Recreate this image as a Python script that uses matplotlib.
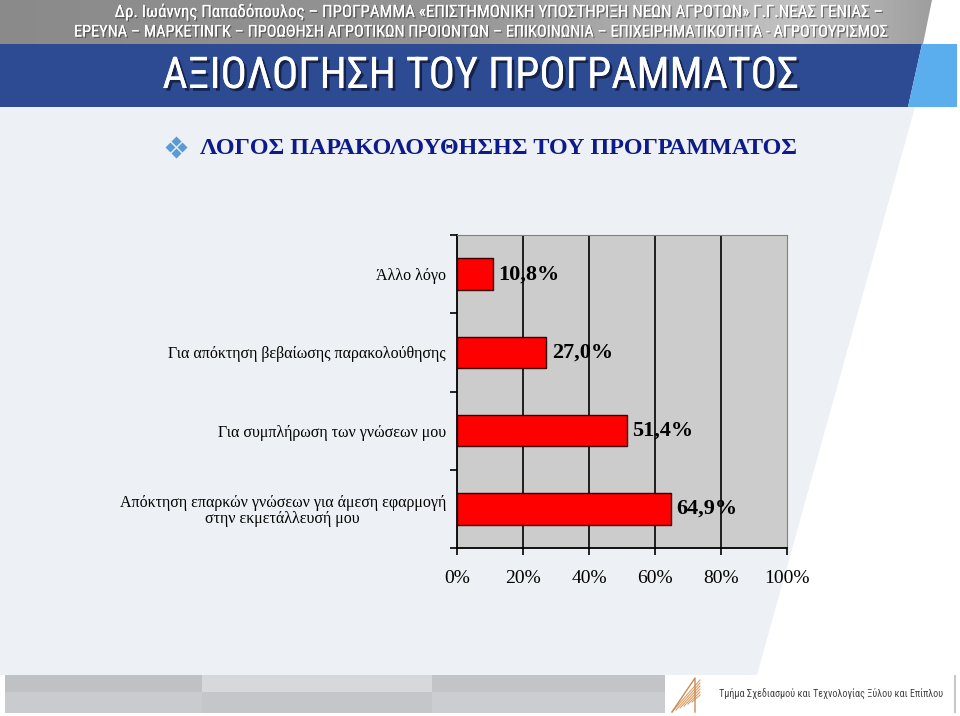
import numpy as np
import matplotlib
matplotlib.use("Agg")
import matplotlib.pyplot as plt
from matplotlib.patches import Rectangle, Polygon
import matplotlib.patheffects as pe

# ---------------- data ----------------
categories = [
    "Άλλο λόγο",
    "Για απόκτηση βεβαίωσης παρακολούθησης",
    "Για συμπλήρωση των γνώσεων μου",
    "Απόκτηση επαρκών γνώσεων για άμεση εφαρμογή\nστην εκμετάλλευσή μου",
]
values = [10.8, 27.0, 51.4, 64.9]
x_ticks = [0, 20, 40, 60, 80, 100]
x_ticklabels = ["0%", "20%", "40%", "60%", "80%", "100%"]

header_1 = "Δρ. Ιωάννης Παπαδόπουλος – ΠΡΟΓΡΑΜΜΑ «ΕΠΙΣΤΗΜΟΝΙΚΗ ΥΠΟΣΤΗΡΙΞΗ ΝΕΩΝ ΑΓΡΟΤΩΝ» Γ.Γ.ΝΕΑΣ ΓΕΝΙΑΣ –"
header_2 = "ΕΡΕΥΝΑ – ΜΑΡΚΕΤΙΝΓΚ – ΠΡΟΩΘΗΣΗ ΑΓΡΟΤΙΚΩΝ ΠΡΟΙΟΝΤΩΝ – ΕΠΙΚΟΙΝΩΝΙΑ – ΕΠΙΧΕΙΡΗΜΑΤΙΚΟΤΗΤΑ - ΑΓΡΟΤΟΥΡΙΣΜΟΣ"
title = "ΑΞΙΟΛΟΓΗΣΗ ΤΟΥ ΠΡΟΓΡΑΜΜΑΤΟΣ"
subtitle = "ΛΟΓΟΣ ΠΑΡΑΚΟΛΟΥΘΗΣΗΣ ΤΟΥ ΠΡΟΓΡΑΜΜΑΤΟΣ"
footer = "Τμήμα Σχεδιασμού και Τεχνολογίας Ξύλου και Επίπλου"

SERIF = ["Liberation Serif", "DejaVu Serif"]
NARROW = ["Liberation Sans Narrow", "Roboto Condensed", "Open Sans", "DejaVu Sans"]

W, H = 960, 716
fig = plt.figure(figsize=(W / 100, H / 100), dpi=100)
fig.patch.set_facecolor("white")

# ---------------- slide background (pixel coords) ----------------
bg = fig.add_axes([0, 0, 1, 1])
bg.set_xlim(0, W); bg.set_ylim(H, 0); bg.axis("off")

# body: light panel with slanted right edge, white beyond
bg.add_patch(Polygon([(0, 107), (915, 107), (757, 675), (0, 675)],
                     closed=True, fc="#edf0f4", ec="none"))

# header band: gray gradient clipped to slanted shape
grad = np.interp(np.linspace(0, 960, 400), [0, 450, 650, 800, 930],
                 [0.54, 0.58, 0.68, 0.76, 0.62])
img = bg.imshow(np.tile(grad, (2, 1)), cmap="gray", vmin=0, vmax=1,
                extent=(0, 960, 44, 0), aspect="auto")
hdr = Polygon([(0, 0), (932, 0), (923, 44), (0, 44)], closed=True,
              fc="none", ec="none", transform=bg.transData)
bg.add_patch(hdr)
img.set_clip_path(hdr)

# title bar: dark blue + light blue tail
bg.add_patch(Polygon([(0, 44), (922, 44), (908, 107), (0, 107)],
                     closed=True, fc="#2c4b93", ec="none"))
bg.add_patch(Polygon([(922, 44), (957, 44), (957, 107), (908, 107)],
                     closed=True, fc="#5aaeee", ec="none"))

shadow = [pe.withSimplePatchShadow(offset=(1, -1), shadow_rgbFace="#333333", alpha=0.6), pe.Normal()]
bg.text(495, 12, header_1, ha="center", va="center", color="white",
        fontsize=12.2, family=NARROW, path_effects=shadow)
bg.text(480, 32, header_2, ha="center", va="center", color="white",
        fontsize=11.7, family=NARROW, path_effects=shadow)
bg.text(481, 76, title, ha="center", va="center", color="white",
        fontsize=31.5, family=NARROW,
        path_effects=[pe.withSimplePatchShadow(offset=(2, -2), shadow_rgbFace="#101a3a", alpha=0.8), pe.Normal()])

# subtitle with four-diamond bullet
for dx, dy in [(0, -6), (-6, 0), (6, 0), (0, 6)]:
    bg.plot(176 + dx, 147 + dy, marker="D", ms=5, color="#5b9bd5", mec="none")
bg.text(200, 149, subtitle, ha="left", va="center", color="#0d1a8a",
        fontsize=17.4, fontweight="bold", family=SERIF)

# footer bands
bands = [(5, 202, "#bfc1c5", "#c9cbce"), (202, 432, "#d6d8db", "#c4c6ca"),
         (432, 665, "#c2c4c8", "#cbcdd0")]
for x0, x1, c_up, c_lo in bands:
    bg.add_patch(Rectangle((x0, 675), x1 - x0, 17, fc=c_up, ec="none"))
    bg.add_patch(Rectangle((x0, 692), x1 - x0, 21, fc=c_lo, ec="none"))
bg.plot([955, 955], [676, 712], color="#c8c8c8", lw=1.5)
# small logo mark
for k in range(6):
    bg.plot([672 + k * 4, 700], [712 - k * 2, 680 + k * 3], color="#d9a06a", lw=0.8)
bg.plot([672, 695, 695], [712, 678, 712], color="#c98b55", lw=1)
bg.text(719, 693, footer, ha="left", va="center", color="#444444",
        fontsize=7.3, family=NARROW)

# ---------------- chart ----------------
ax = fig.add_axes([457 / W, (H - 548) / H, 330 / W, 313 / H])
ax.set_facecolor("#cccccc")
ypos = np.arange(len(categories))
ax.barh(ypos, values, height=0.4, color="#ff0000", edgecolor="#3a0000",
        linewidth=1.0, zorder=3)
for y, v in zip(ypos, values):
    ax.annotate(f"{v:.1f}".replace(".", ",") + "%", (v, y), xytext=(4, 0),
                textcoords="offset points", ha="left", va="center",
                fontsize=16, fontweight="bold", family=SERIF, color="black", zorder=4)

ax.set_xlim(0, 100)
ax.set_ylim(len(categories) - 0.5, -0.5)
ax.set_xticks(x_ticks)
ax.set_xticklabels(x_ticklabels, family=SERIF, fontsize=14)
ax.set_yticks(ypos)
ax.set_yticklabels(categories, family=SERIF, fontsize=11.5, linespacing=1.05)
ax.set_yticks(np.arange(len(categories) + 1) - 0.5, minor=True)
ax.tick_params(axis="y", which="major", length=0, pad=8)
ax.tick_params(axis="y", which="minor", length=5, width=1.2, direction="out", color="black")
ax.tick_params(axis="x", length=5, width=1.2, direction="out", pad=11, color="black")
for t in ax.get_yticklabels():
    t.set_ha("right")
    t.set_multialignment("center")

for x in x_ticks[1:-1]:
    ax.axvline(x, color="black", lw=1.2, zorder=1)
ax.spines["left"].set_color("black"); ax.spines["left"].set_linewidth(1.3)
ax.spines["bottom"].set_color("black"); ax.spines["bottom"].set_linewidth(1.3)
ax.spines["right"].set_color("#808080")
ax.spines["top"].set_color("#808080")

fig.savefig("out.png", dpi=100)
